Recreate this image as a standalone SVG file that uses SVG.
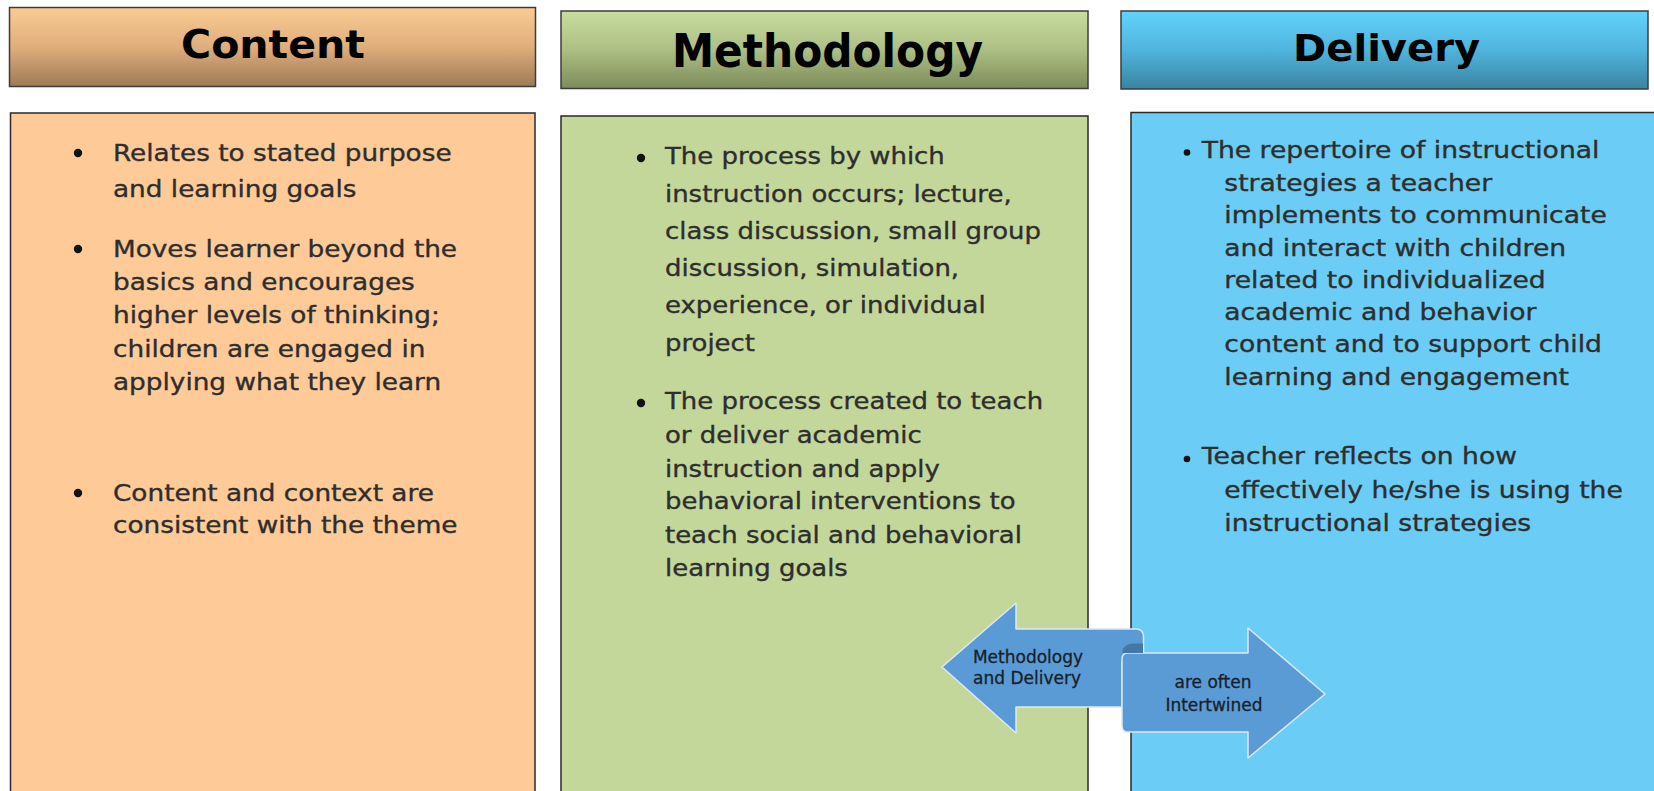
<svg xmlns="http://www.w3.org/2000/svg" width="1654" height="791" viewBox="0 0 1654 791">
<defs>
<linearGradient id="gContent" x1="0" y1="0" x2="0" y2="1">
<stop offset="0" stop-color="#fbcb93"/><stop offset="0.5" stop-color="#dfae7c"/><stop offset="1" stop-color="#9e7a56"/>
</linearGradient>
<linearGradient id="gMethod" x1="0" y1="0" x2="0" y2="1">
<stop offset="0" stop-color="#c9dd9f"/><stop offset="0.5" stop-color="#adbf83"/><stop offset="1" stop-color="#7d8b5a"/>
</linearGradient>
<linearGradient id="gDelivery" x1="0" y1="0" x2="0" y2="1">
<stop offset="0" stop-color="#62d3fc"/><stop offset="0.5" stop-color="#50b4dc"/><stop offset="1" stop-color="#3a84a1"/>
</linearGradient>
<style>
.hdr{stroke:#3c3c3c;stroke-width:1.5}
.box{stroke:#2a2a2a;stroke-width:1.5}
.htxt{font-family:"DejaVu Sans","Liberation Sans",sans-serif;font-weight:bold;fill:#000}
.body{font-family:"DejaVu Sans","Liberation Sans",sans-serif;font-size:22.5px;fill:#2e2e2e;stroke:#2e2e2e;stroke-width:0.35}
.dot{fill:#111}
.arr{fill:#5b9bd5;stroke:#dbe8f5;stroke-width:1.5;stroke-linejoin:round}
.atxt{font-family:"DejaVu Sans","Liberation Sans",sans-serif;font-size:17px;fill:#17212c;stroke:#17212c;stroke-width:0.3;text-anchor:middle}
</style>
</defs>
<rect width="1654" height="791" fill="#ffffff"/>

<g id="content-header">
<rect class="hdr" x="9.5" y="7.5" width="526" height="79" fill="url(#gContent)"/>
<text class="htxt" x="181" y="58.3" font-size="38.5" textLength="184" lengthAdjust="spacingAndGlyphs">Content</text>
</g>
<g id="methodology-header">
<rect class="hdr" x="561" y="11" width="527" height="77.5" fill="url(#gMethod)"/>
<text class="htxt" x="672" y="66.7" font-size="46.5" textLength="311" lengthAdjust="spacingAndGlyphs">Methodology</text>
</g>
<g id="delivery-header">
<rect class="hdr" x="1121" y="11" width="527" height="78" fill="url(#gDelivery)"/>
<text class="htxt" x="1293" y="61" font-size="38" textLength="187" lengthAdjust="spacingAndGlyphs">Delivery</text>
</g>

<g id="content-body">
<rect class="box" x="10.5" y="113" width="524.5" height="700" fill="#fecb98"/>
<circle class="dot" cx="78" cy="153" r="4.2"/>
<circle class="dot" cx="78" cy="249" r="4.2"/>
<circle class="dot" cx="78" cy="493" r="4.2"/>
<g transform="translate(113,0) scale(1.17,1)">
<text class="body" x="0" y="161">Relates to stated purpose</text>
<text class="body" x="0" y="197">and learning goals</text>
<text class="body" x="0" y="257">Moves learner beyond the</text>
<text class="body" x="0" y="290">basics and encourages</text>
<text class="body" x="0" y="323">higher levels of thinking;</text>
<text class="body" x="0" y="357">children are engaged in</text>
<text class="body" x="0" y="390">applying what they learn</text>
<text class="body" x="0" y="501">Content and context are</text>
<text class="body" x="0" y="533">consistent with the theme</text>
</g>
</g>

<g id="methodology-body">
<rect class="box" x="561" y="116" width="527" height="700" fill="#c4d79b"/>
<circle class="dot" cx="641" cy="158" r="4.2"/>
<circle class="dot" cx="641" cy="403" r="4.2"/>
<g transform="translate(665,0) scale(1.152,1)">
<text class="body" x="0" y="164.3">The process by which</text>
<text class="body" x="0" y="201.7">instruction occurs; lecture,</text>
<text class="body" x="0" y="239">class discussion, small group</text>
<text class="body" x="0" y="276">discussion, simulation,</text>
<text class="body" x="0" y="313.3">experience, or individual</text>
<text class="body" x="0" y="350.7">project</text>
<text class="body" x="0" y="409.3">The process created to teach</text>
<text class="body" x="0" y="443.3">or deliver academic</text>
<text class="body" x="0" y="476.7">instruction and apply</text>
<text class="body" x="0" y="509.3">behavioral interventions to</text>
<text class="body" x="0" y="543.3">teach social and behavioral</text>
<text class="body" x="0" y="576">learning goals</text>
</g>
</g>

<g id="delivery-body">
<rect class="box" x="1131" y="112.5" width="540" height="700" fill="#6bcdf5"/>
<circle class="dot" cx="1187" cy="152.5" r="3.3"/>
<circle class="dot" cx="1187" cy="459" r="3.3"/>
<g transform="translate(1201.7,0) scale(1.183,1)">
<text class="body" x="0" y="158.3">The repertoire of instructional</text>
<text class="body" x="19.1" y="190.7">strategies a teacher</text>
<text class="body" x="19.1" y="223.3">implements to communicate</text>
<text class="body" x="19.1" y="255.7">and interact with children</text>
<text class="body" x="19.1" y="287.7">related to individualized</text>
<text class="body" x="19.1" y="320">academic and behavior</text>
<text class="body" x="19.1" y="352.3">content and to support child</text>
<text class="body" x="19.1" y="385">learning and engagement</text>
<text class="body" x="0" y="464.3">Teacher reflects on how</text>
<text class="body" x="19.1" y="498.3">effectively he/she is using the</text>
<text class="body" x="19.1" y="530.7">instructional strategies</text>
</g>
</g>

<g id="intertwined-arrow">
<path class="arr" d="M942,667 L1016,603 L1016,629 L1136,629 Q1143.5,629 1143.5,637 L1143.5,662 L1122,662 L1122,707 L1016,707 L1016,733 Z"/>
<path class="arr" d="M1122,659 Q1122,653 1128,653 L1248,653 L1248,628 L1325,694 L1248,758 L1248,732 L1128,732 Q1122,732 1122,726 Z"/>
<path d="M1122.5,653 L1122.5,651 Q1124,643.5 1134,643.5 L1143,643.5 L1143,653 Z" fill="#4577a6"/>
<text class="atxt" x="1028" y="663">Methodology</text>
<text class="atxt" x="1027" y="684">and Delivery</text>
<text class="atxt" x="1213" y="688">are often</text>
<text class="atxt" x="1214" y="711">Intertwined</text>
</g>
</svg>
